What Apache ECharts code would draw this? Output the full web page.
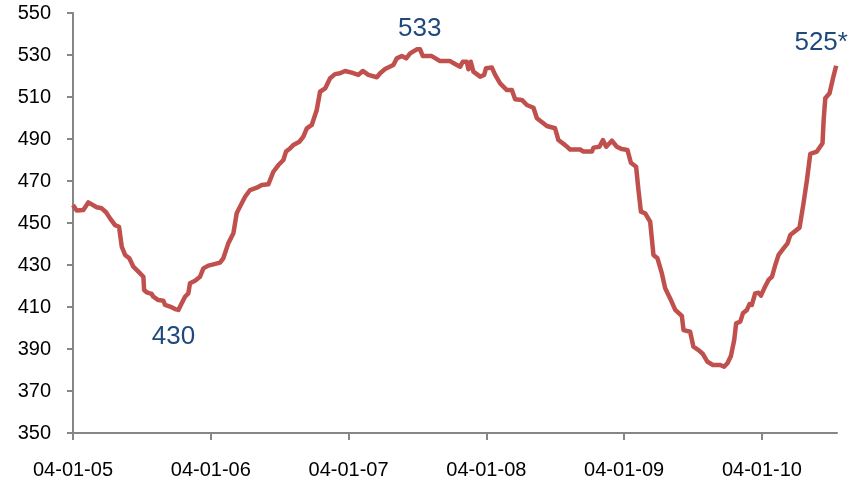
<!DOCTYPE html>
<html lang="en">
    <head>
        <meta charset="UTF-8">
        <title>Chart</title>
        <script src="https://cdn.jsdelivr.net/npm/echarts@6/dist/echarts.min.js"></script>
        <style>
            html, body {
                margin: 0;
                height: 100%;
                background: #fff;
            }
        </style>
    </head>
    <body>
        <div id="main" style="width: 852px;height: 485px"></div>
    </body>
</html>
<script>
    // x position in years since 04-01-05
    var years = [0.000, 0.027, 0.075, 0.111, 0.172, 0.208, 0.240, 0.269, 0.305, 0.334,
        0.354, 0.378, 0.409, 0.438, 0.487, 0.511, 0.516, 0.535, 0.571, 0.583,
        0.619, 0.656, 0.668, 0.704, 0.741, 0.765, 0.789, 0.813, 0.837, 0.849,
        0.886, 0.922, 0.946, 0.982, 1.019, 1.067, 1.091, 1.127, 1.164, 1.188,
        1.212, 1.249, 1.285, 1.334, 1.370, 1.418, 1.454, 1.491, 1.527, 1.546,
        1.575, 1.599, 1.643, 1.672, 1.697, 1.733, 1.769, 1.793, 1.830, 1.866,
        1.902, 1.938, 1.975, 2.023, 2.071, 2.103, 2.144, 2.205, 2.229, 2.265,
        2.325, 2.350, 2.386, 2.418, 2.447, 2.495, 2.519, 2.539, 2.604, 2.664,
        2.737, 2.773, 2.810, 2.829, 2.858, 2.870, 2.887, 2.906, 2.955, 2.984,
        2.998, 3.040, 3.064, 3.100, 3.149, 3.185, 3.209, 3.258, 3.294, 3.342,
        3.367, 3.414, 3.439, 3.499, 3.523, 3.572, 3.608, 3.681, 3.705, 3.766,
        3.778, 3.821, 3.846, 3.870, 3.911, 3.947, 3.984, 4.024, 4.049, 4.087,
        4.104, 4.122, 4.153, 4.189, 4.213, 4.242, 4.274, 4.298, 4.334, 4.371,
        4.419, 4.431, 4.479, 4.503, 4.540, 4.572, 4.605, 4.644, 4.697, 4.726,
        4.750, 4.775, 4.799, 4.813, 4.843, 4.862, 4.891, 4.910, 4.927, 4.951,
        4.975, 4.993, 5.017, 5.048, 5.073, 5.097, 5.121, 5.157, 5.186, 5.206,
        5.273, 5.302, 5.327, 5.351, 5.399, 5.440, 5.448, 5.460, 5.491, 5.516,
        5.539];

    var values = [458.6, 455.9, 456.2, 459.8, 457.5, 457.0, 455.1, 452.2, 449.0, 448.2,
        438.7, 434.8, 433.2, 429.2, 426.0, 424.4, 418.1, 417.0, 416.2, 414.9,
        413.3, 413.0, 411.0, 410.2, 409.0, 408.6, 411.8, 414.9, 416.5, 421.3,
        422.5, 424.4, 428.4, 429.7, 430.3, 431.1, 433.2, 440.3, 445.1, 454.6,
        457.8, 462.5, 465.7, 466.8, 468.1, 468.4, 474.4, 477.6, 480.0, 484.0,
        485.5, 487.1, 488.7, 491.1, 495.1, 496.7, 503.8, 512.5, 514.1, 518.9,
        520.9, 521.3, 522.4, 521.6, 520.5, 522.4, 520.5, 519.4, 521.3, 523.3,
        525.2, 528.4, 529.5, 528.4, 530.8, 532.7, 532.7, 529.5, 529.5, 527.1,
        527.1, 525.7, 524.4, 526.8, 526.8, 523.2, 526.8, 522.1, 519.7, 520.5,
        523.7, 524.0, 520.5, 516.5, 513.3, 513.3, 508.9, 508.6, 506.2, 504.9,
        499.9, 497.5, 496.2, 495.1, 489.5, 487.1, 485.0, 485.0, 484.0, 484.0,
        485.9, 486.3, 489.5, 486.3, 489.2, 486.3, 485.2, 484.8, 478.7, 476.8,
        465.7, 455.4, 454.6, 450.6, 434.8, 433.2, 426.0, 418.9, 414.1, 408.6,
        405.7, 399.0, 398.2, 391.1, 389.5, 387.6, 383.9, 382.4, 382.4, 381.6,
        383.2, 386.7, 394.3, 402.2, 403.0, 407.0, 408.6, 411.4, 411.0, 416.5,
        416.8, 415.4, 418.9, 422.9, 424.4, 430.0, 434.8, 437.9, 440.3, 444.3,
        447.8, 459.4, 470.5, 482.9, 484.0, 488.0, 499.0, 509.4, 511.8, 518.9,
        524.9];

    var xLabels = ['04-01-05', '04-01-06', '04-01-07', '04-01-08', '04-01-09', '04-01-10'];

    // annotation texts and the data index they belong to
    var noteTexts = ['430', '533', '525*'];
    var noteIndex = [25, 75, 170];
    var noteOffsets = [[-5, 27], [3, -21], [-15, -23]];

    var myChart = echarts.init(document.getElementById('main'));

    var lineData = [];
    for (var i = 0; i < years.length; i++) {
        lineData.push([years[i], values[i]]);
    }

    var notes = [];
    for (var j = 0; j < noteTexts.length; j++) {
        var k = noteIndex[j];
        notes.push({
            coord: [years[k], values[k]],
            label: {offset: noteOffsets[j], formatter: noteTexts[j]}
        });
    }

    var tickPos = [];
    for (var t = 0; t < xLabels.length; t++) tickPos.push(t);

    option = {
        animation: false,
        grid: {left: 73, right: 15, top: 13, bottom: 52},
        xAxis: {
            type: 'value',
            min: 0,
            max: 5.545,
            interval: 1,
            axisLine: {lineStyle: {color: '#868686', width: 2}},
            axisTick: {show: true, length: 7, lineStyle: {color: '#868686', width: 2}, customValues: tickPos},
            splitLine: {show: false},
            axisLabel: {
                customValues: tickPos,
                margin: 27,
                color: '#000',
                fontSize: 20,
                fontFamily: 'Liberation Sans',
                formatter: function (v) {
                    return xLabels[Math.round(v)] || '';
                }
            }
        },
        yAxis: {
            type: 'value',
            min: 350,
            max: 550,
            interval: 20,
            axisLine: {show: true, lineStyle: {color: '#868686', width: 2}},
            axisTick: {show: true, length: 6, lineStyle: {color: '#868686', width: 2}},
            splitLine: {show: false},
            axisLabel: {
                margin: 22,
                color: '#000',
                fontSize: 20,
                fontFamily: 'Liberation Sans'
            }
        },
        series: [
            {
                type: 'line',
                data: lineData,
                showSymbol: false,
                lineStyle: {color: '#C0504D', width: 4.5, join: 'round'},
                markPoint: {
                    symbol: 'circle',
                    symbolSize: 0,
                    label: {
                        show: true,
                        color: '#1F497D',
                        fontSize: 26,
                        fontFamily: 'Liberation Sans'
                    },
                    data: notes
                }
            }
        ]
    };

    myChart.setOption(option);
</script>
